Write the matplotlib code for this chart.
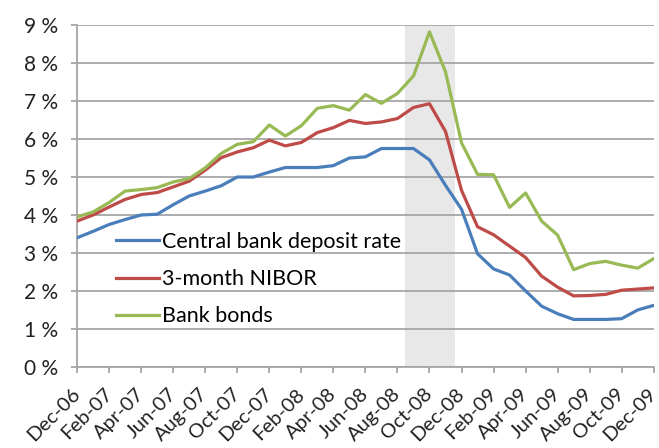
import matplotlib.pyplot as plt
from matplotlib.ticker import FuncFormatter
from matplotlib.transforms import ScaledTranslation

# monthly values, Dec-06 .. Dec-09 (percent)
months = ['Dec-06', 'Jan-07', 'Feb-07', 'Mar-07', 'Apr-07', 'May-07', 'Jun-07', 'Jul-07',
          'Aug-07', 'Sep-07', 'Oct-07', 'Nov-07', 'Dec-07', 'Jan-08', 'Feb-08', 'Mar-08',
          'Apr-08', 'May-08', 'Jun-08', 'Jul-08', 'Aug-08', 'Sep-08', 'Oct-08', 'Nov-08',
          'Dec-08', 'Jan-09', 'Feb-09', 'Mar-09', 'Apr-09', 'May-09', 'Jun-09', 'Jul-09',
          'Aug-09', 'Sep-09', 'Oct-09', 'Nov-09', 'Dec-09']

deposit_rate = [3.40, 3.57, 3.75, 3.88, 4.00, 4.02, 4.27, 4.50, 4.63, 4.77, 5.00, 5.00,
                5.13, 5.25, 5.25, 5.25, 5.30, 5.50, 5.53, 5.75, 5.75, 5.75, 5.45, 4.78,
                4.15, 2.98, 2.58, 2.42, 2.00, 1.60, 1.40, 1.25, 1.25, 1.25, 1.27, 1.50, 1.62]

nibor_3m = [3.84, 4.00, 4.21, 4.41, 4.54, 4.59, 4.74, 4.89, 5.18, 5.51, 5.66, 5.77,
            5.97, 5.82, 5.91, 6.17, 6.30, 6.49, 6.41, 6.45, 6.54, 6.83, 6.93, 6.20,
            4.65, 3.69, 3.48, 3.18, 2.88, 2.39, 2.10, 1.87, 1.88, 1.91, 2.02, 2.05, 2.08]

bank_bonds = [3.95, 4.08, 4.33, 4.63, 4.67, 4.72, 4.87, 4.96, 5.24, 5.62, 5.86, 5.93,
              6.37, 6.08, 6.35, 6.81, 6.88, 6.76, 7.17, 6.94, 7.20, 7.66, 8.82, 7.77,
              5.90, 5.07, 5.06, 4.20, 4.58, 3.84, 3.47, 2.56, 2.72, 2.78, 2.68, 2.60, 2.85]

crisis_span = (20.46, 23.62)

plt.rcParams['font.family'] = ['Lato', 'DejaVu Sans']

fig = plt.figure(figsize=(6.59, 4.48), dpi=100)
ax = fig.add_axes([0.117, 0.181, 0.875, 0.763])

x = list(range(len(months)))
grey = '#a6a6a6'

ax.axvspan(crisis_span[0], crisis_span[1], color='#e8e8e8', zorder=0, lw=0)

ax.plot(x, deposit_rate, color='#4a7ebb', lw=2.3, label='Central bank deposit rate', zorder=3)
ax.plot(x, nibor_3m, color='#be4b48', lw=2.3, label='3-month NIBOR', zorder=3)
ax.plot(x, bank_bonds, color='#98b954', lw=2.3, label='Bank bonds', zorder=3)

ax.set_ylim(0, 9)
ax.set_xlim(0, len(months) - 1)
ax.set_yticks(range(0, 10))
ax.yaxis.set_major_formatter(FuncFormatter(lambda v, p: f'{int(v)} %'))
ax.yaxis.grid(True, color=grey, lw=1.3)
ax.set_axisbelow(True)

ax.set_xticks(x[::2])
ax.set_xticklabels(months[::2], rotation=45, ha='right', va='center', rotation_mode='anchor')
shift = ScaledTranslation(7 / 100, 0, fig.dpi_scale_trans)
for lbl in ax.get_xticklabels():
    lbl.set_transform(lbl.get_transform() + shift)

for s in ['top', 'right']:
    ax.spines[s].set_visible(False)
for s in ['left', 'bottom']:
    ax.spines[s].set_color(grey)
    ax.spines[s].set_linewidth(1.3)

ax.tick_params(axis='y', length=4.5, color=grey, width=1.3, labelsize=15, pad=9, labelcolor='#222222')
ax.tick_params(axis='x', length=4.5, color=grey, width=1.3, labelsize=14.5, pad=13, labelcolor='#222222')

ax.legend(loc='upper left', bbox_to_anchor=(0.0676, 0.395), frameon=False, fontsize=15.5,
          handlelength=2.0, handletextpad=0.15, labelspacing=0.8, borderaxespad=0, borderpad=0)

fig.savefig('out.png', dpi=100)
